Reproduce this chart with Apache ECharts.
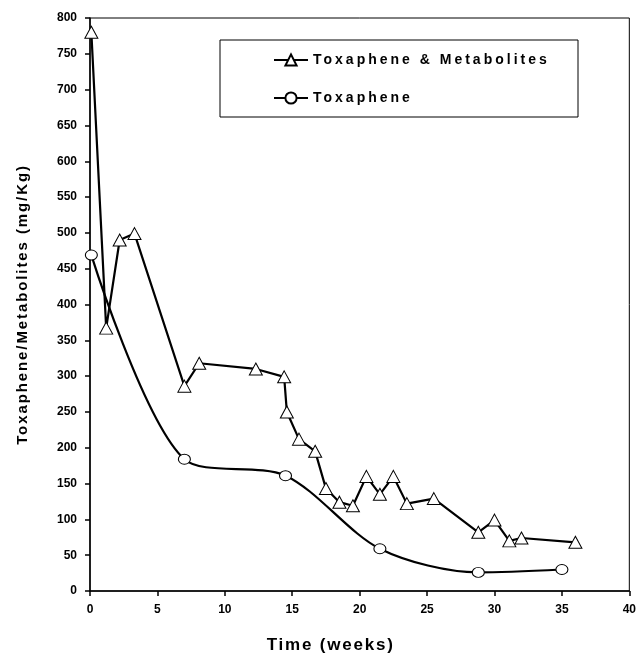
<!DOCTYPE html>
<html>
<head>
<meta charset="utf-8">
<script src="https://cdn.jsdelivr.net/npm/echarts@6/dist/echarts.min.js"></script>
<style>
html,body{margin:0;padding:0;background:#fff;}
#chart{width:639px;height:659px;}
</style>
</head>
<body>
<div id="chart"></div>
<script>
// Toxaphene & Metabolites (triangles)
var metabWeeks = [0.1, 1.2, 2.2, 3.3, 7.0, 8.1, 12.3, 14.4, 14.6, 15.5, 16.7, 17.5, 18.5, 19.5, 20.5, 21.5, 22.5, 23.5, 25.5, 28.8, 30.0, 31.1, 32.0, 36.0];
var metabValues = [780, 367, 490, 499, 286, 318, 310, 299, 250, 212, 195, 143, 124, 119, 160, 135, 160, 122, 129, 82, 99, 70, 74, 68];
// Toxaphene (circles)
var toxWeeks = [0.1, 7.0, 14.5, 21.5, 28.8, 35.0];
var toxValues = [469, 184, 161, 59, 26, 30];

function pairs(xs, ys){
	var out = [];
	for(var i=0;i<xs.length;i++){
		out.push([xs[i], ys[i]]);
	}
	return out;
}

// the original uses wide letter spacing on its titles and legend
var spacing = {'14':'3px', '15':'1.9px', '17':'1.8px'};
var origFillText = CanvasRenderingContext2D.prototype.fillText;
CanvasRenderingContext2D.prototype.fillText = function(t, x, y, w){
	var m = /(\d+)px/.exec(this.font);
	if('letterSpacing' in this){
		this.letterSpacing = (m && spacing[m[1]]) || '0px';
	}
	return w === undefined ? origFillText.call(this, t, x, y) : origFillText.call(this, t, x, y, w);
};

var font = '"Liberation Sans", Arial, sans-serif';
var chart = echarts.init(document.getElementById('chart'));
var option = {
	animation:false,
	backgroundColor:'#fff',
	grid:{
		left:90, right:9, top:18, bottom:66,
		show:true, borderColor:'#000', borderWidth:1
	},
	graphic:[{
		type:'rect',
		shape:{x:220, y:40, width:358, height:77},
		style:{fill:'#fff', stroke:'#000', lineWidth:1},
		z:5
	}],
	legend:{
		orient:'vertical',
		left:268, top:48,
		itemWidth:34, itemHeight:14,
		itemGap:24,
		z:10,
		textStyle:{fontFamily:font, fontWeight:'bold', fontSize:14, color:'#000'},
		data:['Toxaphene & Metabolites','Toxaphene']
	},
	xAxis:{
		type:'value',
		min:0, max:40, interval:5,
		name:'Time (weeks)',
		nameLocation:'middle',
		nameGap:46,
		nameTextStyle:{fontFamily:font, fontWeight:'bold', fontSize:17, color:'#000', padding:[0,58,0,0]},
		axisLine:{show:true, lineStyle:{color:'#000', width:1.5}},
		axisTick:{show:true, length:5, lineStyle:{color:'#000', width:1.5}},
		axisLabel:{fontFamily:font, fontWeight:'bold', fontSize:12, color:'#000', margin:13},
		splitLine:{show:false}
	},
	yAxis:{
		type:'value',
		min:0, max:800, interval:50,
		name:'Toxaphene/Metabolites (mg/Kg)',
		nameLocation:'middle',
		nameGap:60,
		nameTextStyle:{fontFamily:font, fontWeight:'bold', fontSize:15, color:'#000'},
		axisLine:{show:true, lineStyle:{color:'#000', width:1.5}},
		axisTick:{show:true, length:5, lineStyle:{color:'#000', width:1.5}},
		axisLabel:{fontFamily:font, fontWeight:'bold', fontSize:12, color:'#000', margin:13},
		splitLine:{show:false}
	},
	series:[{
		name:'Toxaphene & Metabolites',
		type:'line',
		data:pairs(metabWeeks, metabValues),
		symbol:'triangle',
		symbolSize:[13,12],
		showAllSymbol:true,
		lineStyle:{color:'#000', width:2.2},
		itemStyle:{color:'#fff', borderColor:'#000', borderWidth:1},
		z:3
	},{
		name:'Toxaphene',
		type:'line',
		data:pairs(toxWeeks, toxValues),
		smooth:0.3,
		symbol:'circle',
		symbolSize:[12,10],
		showAllSymbol:true,
		lineStyle:{color:'#000', width:2.2},
		itemStyle:{color:'#fff', borderColor:'#000', borderWidth:1},
		z:3
	}]
};
chart.setOption(option);
</script>
</body>
</html>
